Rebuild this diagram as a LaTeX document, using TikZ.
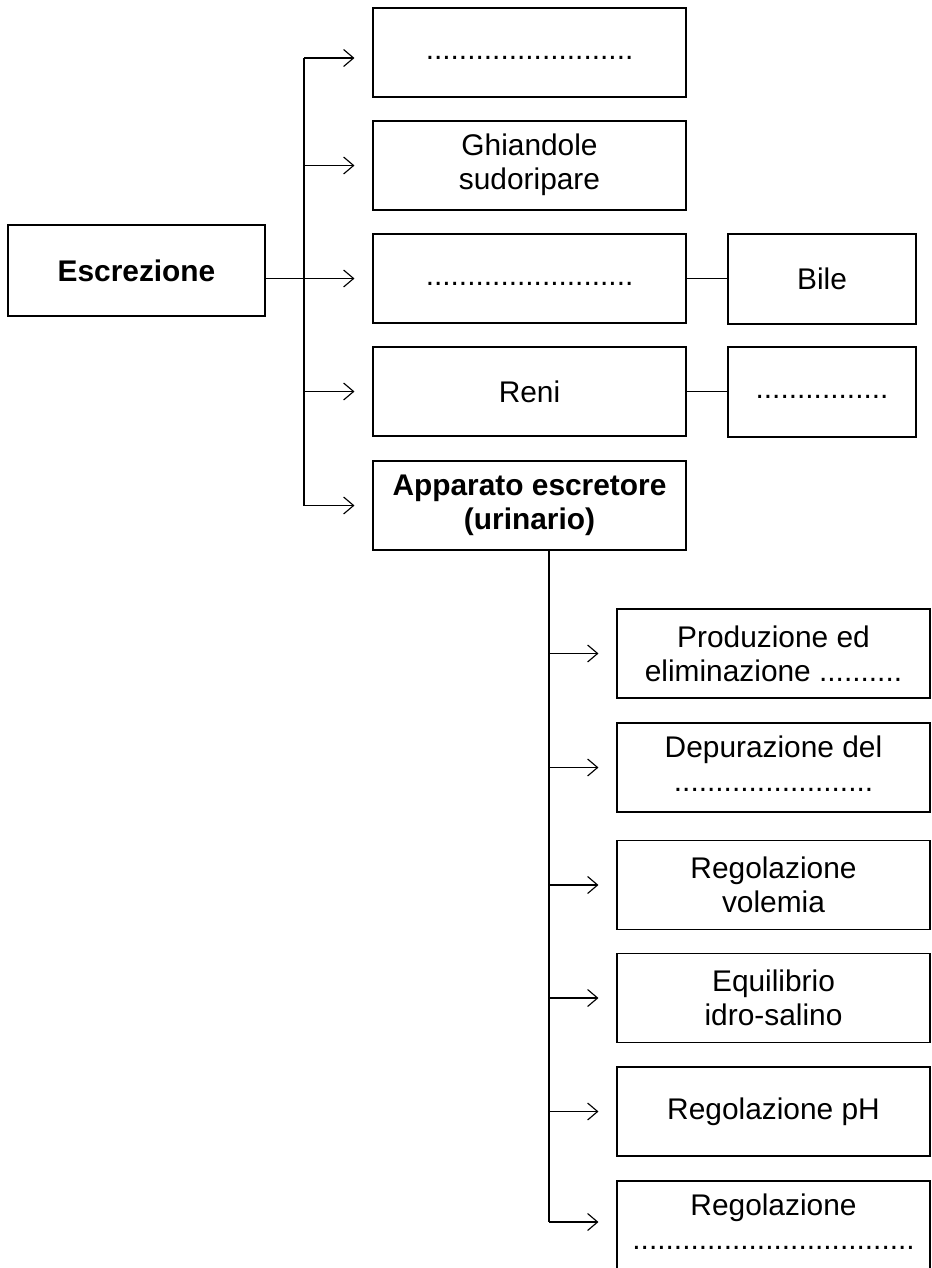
\documentclass[tikz,border=0pt]{standalone}
\usepackage{fontspec}
\setmainfont{Liberation Sans}
\usetikzlibrary{arrows.meta}
\begin{document}
\begin{tikzpicture}[x=0.02cm,y=-0.02cm,
  font=\fontsize{17}{19.5}\selectfont,
  line width=0.65pt,
  box/.style={draw, rectangle, align=center, inner sep=0pt},
  mainbox/.style={box, minimum width=6.26cm, minimum height=1.78cm},
  sidebox/.style={box, minimum width=3.76cm, minimum height=1.8cm},
  arr/.style={-{Straight Barb[length=0.2cm,width=0.34cm,line width=0.65pt]}, shorten >=0.36cm}]
\useasboundingbox (0,0) rectangle (931,1268);

\node[box, minimum width=5.14cm, minimum height=1.82cm] (esc) at (136.5,270.5) {\bfseries Escrezione};

\node[mainbox] (b1) at (529.5,52.5) {\strut.........................};
\node[mainbox] (b2) at (529.5,165.5) {\strut Ghiandole\\sudoripare\strut};
\node[mainbox] (b3) at (529.5,278.5) {\strut.........................};
\node[mainbox] (b4) at (529.5,391.5) {Reni};
\node[mainbox] (b5) at (529.5,505.5) {\bfseries Apparato escretore\\\bfseries (urinario)};

\node[sidebox] (bile) at (822,279) {Bile};
\node[sidebox] (s2) at (822,392) {\strut................};

\node[mainbox] (c1) at (773.5,653.5) {Produzione ed\\eliminazione ..........};
\node[mainbox] (c2) at (773.5,767.5) {\strut Depurazione del\\........................\strut};
\node[mainbox] (c3) at (773.5,885) {Regolazione\\volemia};
\node[mainbox] (c4) at (773.5,998) {Equilibrio\\idro-salino};
\node[mainbox] (c5) at (773.5,1111.5) {Regolazione pH};
\node[mainbox] (c6) at (773.5,1225.5) {\strut Regolazione\\..................................\strut};

% main trunk
\coordinate (t1) at (304,58);
\coordinate (t5) at (304,505.5);
\draw (t1) -- (t5);
\draw[arr] (t1) -- (b1.west |- t1);
\draw[arr] (esc.east |- b3.west) -- (b3.west);
\foreach \b in {b2,b4,b5} \draw[arr] (t1 |- \b.west) -- (\b.west);

% side links
\draw (b3.east) -- (b3.east -| bile.west);
\draw (b4.east) -- (b4.east -| s2.west);

% sub trunk
\coordinate (u0) at (549,550);
\coordinate (u6) at (549,1222);
\draw (u0) -- (u6);
\foreach \c in {c1,c2,c3,c4,c5} \draw[arr] (u0 |- \c.west) -- (\c.west);
\draw[arr] (u6) -- (u6 -| c6.west);
\end{tikzpicture}
\end{document}
